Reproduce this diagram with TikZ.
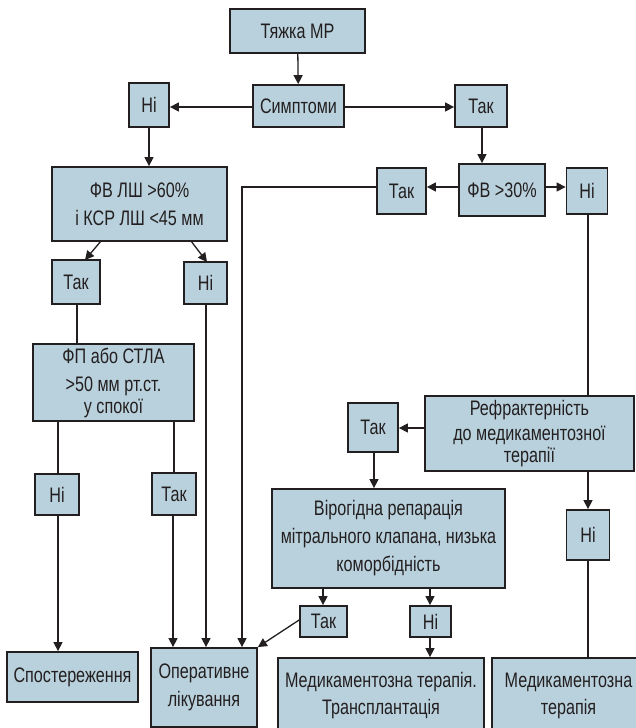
\documentclass[tikz,border=0pt]{standalone}
\usepackage{fontspec}
\setmainfont[FakeStretch=0.77]{Liberation Sans}
\usetikzlibrary{arrows.meta}
\definecolor{boxfill}{RGB}{185,209,220}
\definecolor{ink}{RGB}{35,31,32}
\tikzset{
  box/.style={draw=ink, fill=boxfill, line width=1.8pt, inner sep=0pt,
    text=ink, align=center, font=\fontsize{21}{28}\selectfont},
  link/.style={draw=ink, line width=1.3pt},
  arr/.style={link, -{Triangle[length=9pt,width=9pt]}}
}
\begin{document}
\begin{tikzpicture}[x=1pt,y=-1pt]
\useasboundingbox (0,0) rectangle (636,728);
\clip (0,0) rectangle (636,728);

% top of the chart
\node[box, minimum width=135, minimum height=44] (tmr) at (297.5,31) {Тяжка МР};
\node[box, minimum width=91, minimum height=42] (sym) at (298.5,106) {Симптоми};
\node[box, minimum width=40, minimum height=44] (ni1) at (149,105) {Ні};
\node[box, minimum width=52, minimum height=42] (tak1) at (481,106) {Так};

% second row
\node[box, minimum width=175, minimum height=74] (fvlsh) at (139.5,204)
  {ФВ ЛШ >60\%\\і КСР ЛШ <45 мм};
\node[box, minimum width=86, minimum height=52] (fv30) at (502,190) {ФВ >30\%};
\node[box, minimum width=49, minimum height=46] (tak2) at (401.5,191) {Так};
\node[box, minimum width=41, minimum height=46] (ni2) at (587,191) {Ні};

% left branch
\node[box, minimum width=48, minimum height=44] (tak3) at (76,282) {Так};
\node[box, minimum width=43, minimum height=42] (ni3) at (205.5,283) {Ні};
\node[box, minimum width=161, minimum height=77] (fp) at (113.5,382.5)
  {ФП або СТЛА\\>50 мм рт.ст.\\[-6pt]у спокої};
\node[box, minimum width=44, minimum height=41] (ni4) at (57,494.5) {Ні};
\node[box, minimum width=44, minimum height=42] (tak4) at (174,494) {Так};

% right branch
\node[box, minimum width=209, minimum height=75] (refr) at (529.5,433.5)
  {Рефрактерність\\[-3pt]до медикаментозної\\[-6pt]терапії};
\node[box, minimum width=50, minimum height=49] (tak5) at (373,427.5) {Так};
\node[box, minimum width=233, minimum height=99] (vir) at (388.5,538.5)
  {Вірогідна репарація\\мітрального клапана, низька\\коморбідність};
\node[box, minimum width=43, minimum height=50] (ni5) at (588,535) {Ні};
\node[box, minimum width=47, minimum height=31] (tak6) at (323.5,621.5) {Так};
\node[box, minimum width=41, minimum height=31] (ni6) at (430.5,621.5) {Ні};

% outcomes
\node[box, minimum width=131, minimum height=50] (spost) at (72.5,677) {Спостереження};
\node[box, minimum width=106, minimum height=79] (oper) at (204,687.5)
  {Оперативне\\лікування};
\node[box, minimum width=206, minimum height=76] (medtr) at (381,696)
  {Медикаментозна терапія.\\[-1pt]Трансплантація};
\node[box, minimum width=153, minimum height=76] (medt) at (568.5,696)
  {Медикаментозна\\[-1pt]терапія};

% connectors
\draw[arr] (tmr) -- (sym);
\draw[arr] (sym.west |- 0,107) -- (ni1.east |- 0,107);
\draw[arr] (sym.east |- 0,107) -- (tak1.west |- 0,107);
\draw[arr] (ni1.south) -- (ni1.south |- fvlsh.north);
\draw[arr] (tak1.south -| 482,0) -- (fv30.north -| 482,0);
\draw[arr] (fv30.west |- 0,187) -- (tak2.east |- 0,187);
\draw[arr] (fv30.east |- 0,187) -- (ni2.west |- 0,187);
\coordinate (bendA) at (242,187);
\draw[arr] (tak2.west |- bendA) -- (bendA) -- (bendA |- oper.north);

\coordinate (fvA) at (101,241);
\coordinate (fvB) at (191,241);
\draw[arr] (fvA) -- (85,260);
\draw[arr] (fvB) -- (207,262);
\draw[link] (tak3.south -| 77,0) -- (fp.north -| 77,0);
\draw[arr] (ni3.south -| 206,0) -- (oper.north -| 206,0);
\draw[link] (fp.south -| 58,0) -- (ni4.north -| 58,0);
\draw[link] (fp.south -| 174,0) -- (tak4.north -| 174,0);
\draw[arr] (ni4.south -| 58,0) -- (spost.north -| 58,0);
\draw[arr] (tak4.south -| 173,0) -- (oper.north -| 173,0);

\draw[link] (ni2.south -| 588,0) -- (refr.north -| 588,0);
\draw[arr] (refr.west |- 0,428) -- (tak5.east |- 0,428);
\draw[arr] (tak5.south -| 374,0) -- (vir.north -| 374,0);
\draw[arr] (refr.south -| 588,0) -- (ni5.north -| 588,0);
\draw[link] (ni5.south -| 588,0) -- (medt.north -| 588,0);
\draw[arr] (vir.south -| 323,0) -- (tak6.north -| 323,0);
\draw[arr] (vir.south -| 430,0) -- (ni6.north -| 430,0);
\draw[arr] (ni6.south -| 430,0) -- (medtr.north -| 430,0);
\draw[arr] (tak6.west |- 0,620) -- (oper.north east);
\end{tikzpicture}
\end{document}
